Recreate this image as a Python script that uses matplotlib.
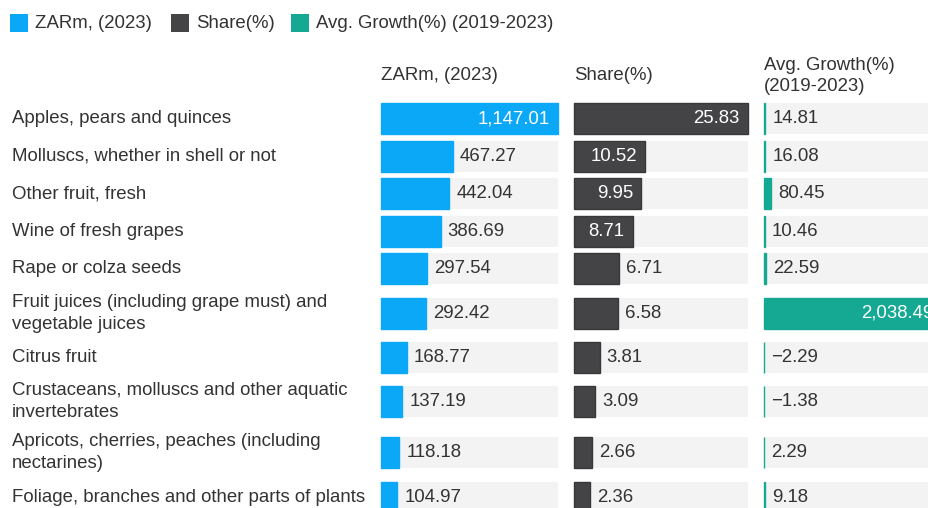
import matplotlib
matplotlib.use("Agg")
import matplotlib.pyplot as plt
from matplotlib.patches import Rectangle

plt.rcParams['font.family'] = ['Liberation Sans', 'DejaVu Sans']

categories = [
    "Apples, pears and quinces",
    "Molluscs, whether in shell or not",
    "Other fruit, fresh",
    "Wine of fresh grapes",
    "Rape or colza seeds",
    "Fruit juices (including grape must) and\nvegetable juices",
    "Citrus fruit",
    "Crustaceans, molluscs and other aquatic\ninvertebrates",
    "Apricots, cherries, peaches (including\nnectarines)",
    "Foliage, branches and other parts of plants",
]
zar = [1147.01, 467.27, 442.04, 386.69, 297.54, 292.42, 168.77, 137.19, 118.18, 104.97]
share = [25.83, 10.52, 9.95, 8.71, 6.71, 6.58, 3.81, 3.09, 2.66, 2.36]
growth = [14.81, 16.08, 80.45, 10.46, 22.59, 2038.49, -2.29, -1.38, 2.29, 9.18]

series_names = ["ZARm, (2023)", "Share(%)", "Avg. Growth(%) (2019-2023)"]
headers = ["ZARm, (2023)", "Share(%)", "Avg. Growth(%)\n(2019-2023)"]

W, H = 929, 508
BLUE = "#0aa8f7"
DARK = "#444446"
TEAL = "#15a993"
BG = "#f3f3f3"
TXT = "#333333"
FS = 13.4

fig = plt.figure(figsize=(W / 100, H / 100), dpi=100)
fig.patch.set_facecolor("white")

# row layout
lines = [c.count("\n") + 1 for c in categories]
hts = [37.6 if n == 1 else 51.0 for n in lines]
centers = [118.5]
for i in range(1, len(categories)):
    centers.append(centers[-1] + (hts[i - 1] + hts[i]) / 2)
BAR_H = 31


def px_axes(x0, x1):
    ax = fig.add_axes([x0 / W, 0, (x1 - x0) / W, 1])
    ax.set_ylim(H, 0)
    ax.axis("off")
    return ax


# labels
lab = px_axes(0, 381)
lab.set_xlim(0, 381)
for c, y in zip(categories, centers):
    lab.text(12, y, c, ha="left", va="center", fontsize=FS, color=TXT, linespacing=1.4)

panels = [
    (381, 558, zar, BLUE, "#0aa8f7", 1000, lambda v: f"{v:,.2f}", headers[0]),
    (574, 748, share, DARK, "#38383a", 8.0, lambda v: f"{v:,.2f}", headers[1]),
    (764, 941, growth, TEAL, TEAL, 1000, lambda v: f"{v:,.2f}".replace("-", "\u2212"), headers[2]),
]

for x0, x1, vals, col, ecol, thr, fmt, head in panels:
    ax = px_axes(x0, x1)
    vmax = max(vals)
    ax.set_xlim(0, vmax)
    pxu = vmax / (x1 - x0)  # data units per pixel
    ax.barh(centers, [vmax] * len(vals), height=BAR_H, color=BG, zorder=1)
    ax.barh(centers, vals, height=BAR_H, color=col, edgecolor=ecol, linewidth=1.0,
            zorder=2, clip_on=False)
    for v, y in zip(vals, centers):
        if v >= thr:
            ax.text(v - 8 * pxu, y, fmt(v), ha="right", va="center", fontsize=FS,
                    color="white", zorder=3, clip_on=False)
        else:
            ax.text(max(v, 0) + 7 * pxu, y, fmt(v), ha="left", va="center", fontsize=FS,
                    color=TXT, zorder=3)
    ax.text(0, 76, head, ha="left", va="center", fontsize=FS, color=TXT, linespacing=1.25)

# legend
leg_ax = px_axes(0, W)
leg_ax.set_xlim(0, W)
leg_x = [10, 171, 291]
leg_cols = [BLUE, DARK, TEAL]
for x, name, col in zip(leg_x, series_names, leg_cols):
    leg_ax.add_patch(Rectangle((x, 14), 18, 18, facecolor=col, edgecolor="none"))
    leg_ax.text(x + 25, 23, name, ha="left", va="center", fontsize=FS, color=TXT)

fig.savefig("out.png", dpi=100)
